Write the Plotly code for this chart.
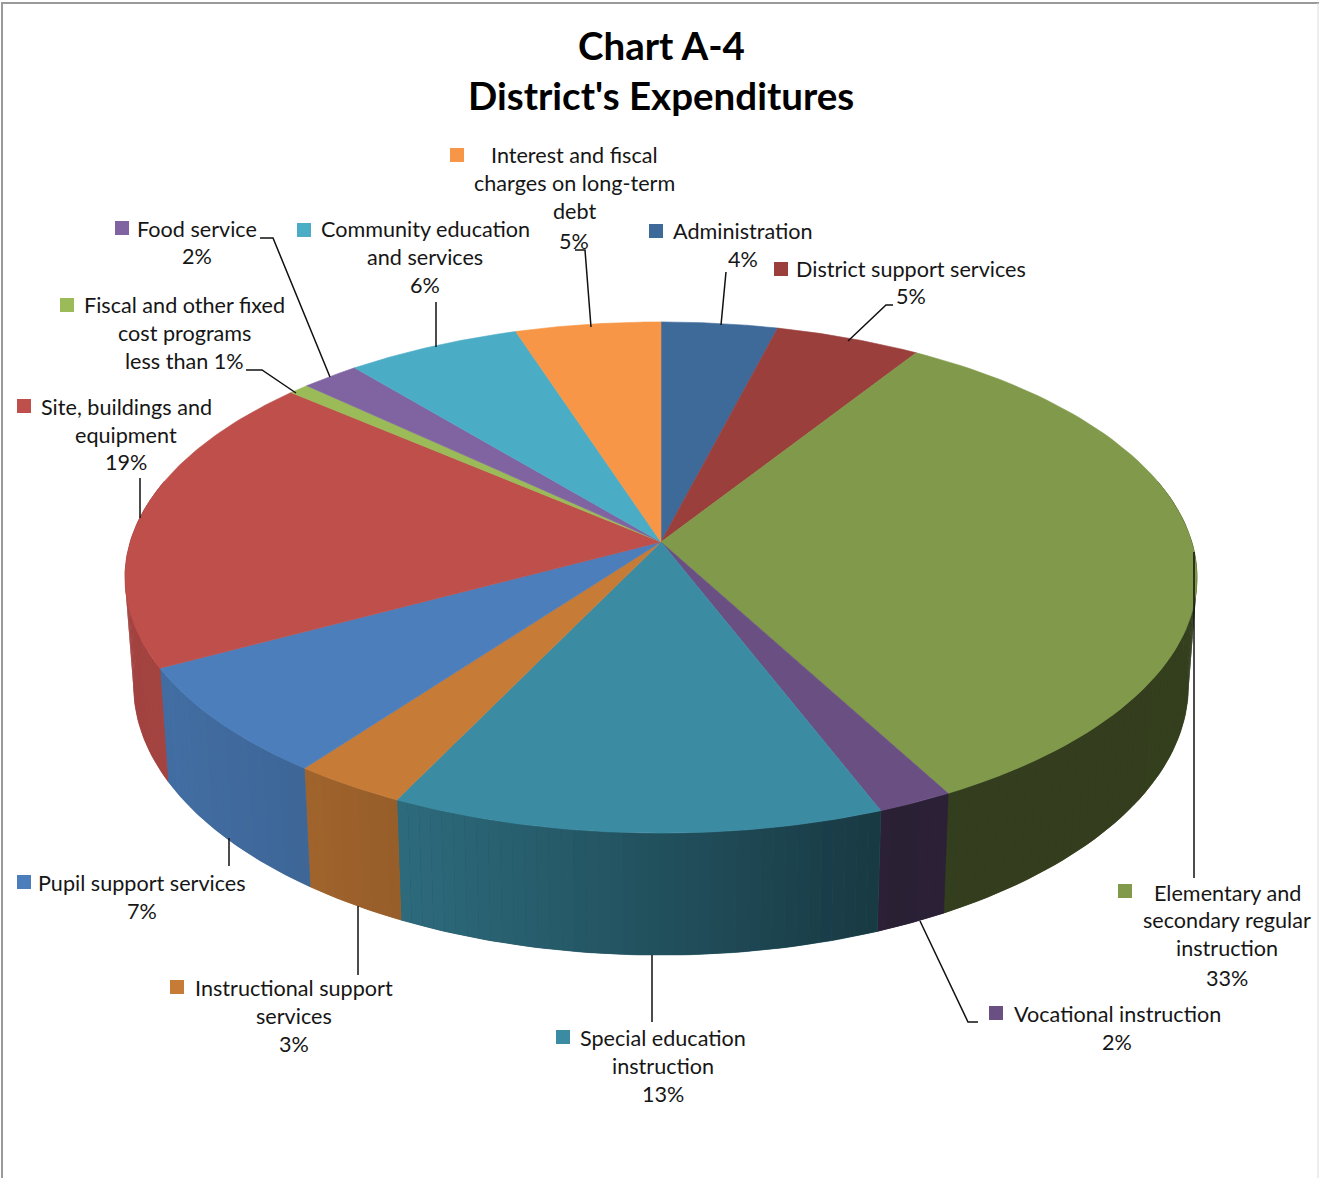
import numpy as np
import plotly.graph_objects as go

# Budget shares, clockwise from twelve o'clock
categories = [
    "Administration", "District support services",
    "Elementary and secondary regular instruction", "Vocational instruction",
    "Special education instruction", "Instructional support services",
    "Pupil support services", "Site, buildings and equipment",
    "Fiscal and other fixed cost programs", "Food service",
    "Community education and services", "Interest and fiscal charges on long-term debt",
]
shares = [4, 5, 33, 2, 13, 3, 7, 19, 0.7, 2, 6, 5]
top_colors = [
    "#3E6A9A", "#9A3F3C", "#80994A", "#6A4F83", "#3B8CA3", "#C67B37",
    "#4C7EBB", "#BE4F4B", "#9BBB59", "#8064A2", "#4BACC6", "#F79646",
]
title_lines = ["Chart A-4", "District's Expenditures"]

# Wrapped label text for each slice, ending with its share
label_lines = [
    ["Administration", "4%"],
    ["District support services", "5%"],
    ["Elementary and", "secondary regular", "instruction", "33%"],
    ["Vocational instruction", "2%"],
    ["Special education", "instruction", "13%"],
    ["Instructional support", "services", "3%"],
    ["Pupil support services", "7%"],
    ["Site, buildings and", "equipment", "19%"],
    ["Fiscal and other fixed", "cost programs", "less than 1%"],
    ["Food service", "2%"],
    ["Community education", "and services", "6%"],
    ["Interest and fiscal", "charges on long-term", "debt", "5%"],
]

# Label placement: centre x, centre y per line, key square, leader route
placement = [
    dict(x=743, y=[231, 259], key=(656, 231), leader=[(721, 325), (726, 272)]),
    dict(x=911, y=[269, 296], key=(781, 269), leader=[(848, 341), (886, 305), (893, 305)]),
    dict(x=1227, y=[893, 920, 948, 978], key=(1125, 891), leader=[(1194, 552), (1194, 878)]),
    dict(x=1117, y=[1014, 1042], key=(996, 1013), leader=[(920, 921), (968, 1022), (978, 1022)]),
    dict(x=663, y=[1038, 1066, 1094], key=(563, 1037), leader=[(652, 955), (652, 1022)]),
    dict(x=294, y=[988, 1016, 1044], key=(177, 987), leader=[(358, 906), (358, 975)]),
    dict(x=142, y=[883, 911], key=(24, 882), leader=[(229, 838), (229, 866)]),
    dict(x=126, y=[407, 435, 462], key=(24, 406), leader=[(140, 518), (140, 478)]),
    dict(x=184, y=[305, 333, 361], key=(67, 305), leader=[(296, 393), (262, 370), (246, 370)]),
    dict(x=197, y=[229, 256], key=(122, 228), leader=[(330, 377), (273, 238), (260, 238)]),
    dict(x=425, y=[229, 257, 285], key=(304, 230), leader=[(436, 347), (436, 302)]),
    dict(x=574, y=[155, 183, 211, 241], key=(457, 155), leader=[(591, 327), (585, 250), (575, 250)]),
]

# Perspective model of the disc, in page pixels
APEX_X, APEX_Y = 661.0, 542.0
PERSP = 0.139
HALF_W = 530.8
TILT = 175.3
BASE_X_SCALE, BASE_Y_SCALE, BASE_Y0 = 0.984, 1.055, 648.0

LABEL_FONT = "Lato"
LABEL_SIZE = 21.6
TITLE_SIZE = 38.5
INK = "#161616"
LEADER_WIDTH = 1.5


def top_rim(theta):
    """Project a clockwise-from-north angle on to the upper face of the disc."""
    u, v = np.sin(theta), np.cos(theta)
    w = 1 + PERSP * v
    return APEX_X + HALF_W * u / w, (APEX_Y - TILT * v) / w


def bottom_rim(theta):
    x, y = top_rim(theta)
    return APEX_X + BASE_X_SCALE * (x - APEX_X), BASE_Y0 + BASE_Y_SCALE * (y - APEX_Y)


def shaded(hex_color, factor):
    r, g, b = (int(hex_color[i:i + 2], 16) for i in (1, 3, 5))
    return f"rgb({r * factor:.0f},{g * factor:.0f},{b * factor:.0f})"


def wall_factor(x):
    # The side of the disc darkens from left to right
    return float(np.interp(x, [130, 170, 300, 400, 650, 890, 1200],
                           [0.85, 0.87, 0.81, 0.76, 0.58, 0.40, 0.41]))


fractions = np.cumsum([0] + shares) / sum(shares)
angles = fractions * 2 * np.pi

fig = go.Figure()


def wall_polygon(a, b, steps):
    theta = np.linspace(a, b, steps)
    tx, ty = top_rim(theta)
    bx, by = bottom_rim(theta[::-1])
    return np.r_[tx, bx, tx[0]], np.r_[ty, by, ty[0]]


# Side wall: a solid base per slice, then narrow bands so the shading varies along it
VISIBLE_FROM = np.arccos(0.25)
for i, color in enumerate(top_colors):
    a = max(angles[i], VISIBLE_FROM)
    b = min(angles[i + 1], 2 * np.pi - VISIBLE_FROM)
    if b <= a:
        continue
    xs, ys = wall_polygon(a, b, 60)
    mid_x, _ = top_rim((a + b) / 2)
    base = shaded(color, wall_factor(mid_x))
    fig.add_trace(go.Scatter(x=xs, y=ys, mode="lines", fill="toself", fillcolor=base,
                             line=dict(color=base, width=0.6), hoverinfo="skip", showlegend=False))
    edges = np.linspace(a, b, max(2, int(np.ceil((b - a) / np.radians(1.2)))) + 1)
    for p, q in zip(edges[:-1], edges[1:]):
        xs, ys = wall_polygon(p, q, 3)
        band_x, _ = top_rim((p + q) / 2)
        fig.add_trace(go.Scatter(x=xs, y=ys, mode="lines", fill="toself",
                                 fillcolor=shaded(color, wall_factor(band_x)),
                                 line=dict(width=0), hoverinfo="skip", showlegend=False))

# Upper face of each slice
for i, (name, color) in enumerate(zip(categories, top_colors)):
    theta = np.linspace(angles[i], angles[i + 1], 80)
    rim_x, rim_y = top_rim(theta)
    fig.add_trace(go.Scatter(
        x=np.r_[APEX_X, rim_x, APEX_X], y=np.r_[APEX_Y, rim_y, APEX_Y],
        mode="lines", fill="toself", fillcolor=color, line=dict(color=color, width=0.6),
        name=name, hoverinfo="name", showlegend=False))

# Leader lines from each slice to its label
for spot in placement:
    fig.add_trace(go.Scatter(x=[p[0] for p in spot["leader"]], y=[p[1] for p in spot["leader"]],
                             mode="lines", line=dict(color="#111111", width=LEADER_WIDTH),
                             hoverinfo="skip", showlegend=False))

# Colour keys beside the labels
fig.add_trace(go.Scatter(
    x=[p["key"][0] for p in placement], y=[p["key"][1] for p in placement],
    mode="markers", marker=dict(symbol="square", size=14, color=top_colors, line=dict(width=0)),
    hoverinfo="skip", showlegend=False))

annotations = []
for lines, spot in zip(label_lines, placement):
    for text, y in zip(lines, spot["y"]):
        annotations.append(dict(x=spot["x"], y=y, xref="x", yref="y", text=text, showarrow=False,
                                xanchor="center", yanchor="middle",
                                font=dict(family=LABEL_FONT, size=LABEL_SIZE, color=INK)))
for text, y in zip(title_lines, [45, 95]):
    annotations.append(dict(x=661, y=y, xref="x", yref="y", text=f"<b>{text}</b>", showarrow=False,
                            xanchor="center", yanchor="middle",
                            font=dict(family=LABEL_FONT, size=TITLE_SIZE, color="#000000")))

# Outer frame of the chart area
frame = [
    dict(type="line", xref="x", yref="y", x0=2, x1=2, y0=2, y1=1178, line=dict(color="#9a9a9a", width=2)),
    dict(type="line", xref="x", yref="y", x0=2, x1=1319, y0=3, y1=3, line=dict(color="#9a9a9a", width=2)),
    dict(type="line", xref="x", yref="y", x0=1318, x1=1318, y0=3, y1=1178, line=dict(color="#dddddd", width=1)),
]

fig.update_layout(
    width=1319, height=1178, margin=dict(l=0, r=0, t=0, b=0),
    paper_bgcolor="white", plot_bgcolor="white", showlegend=False,
    xaxis=dict(range=[0, 1319], visible=False, fixedrange=True),
    yaxis=dict(range=[1178, 0], visible=False, fixedrange=True),
    annotations=annotations, shapes=frame,
)

fig.write_html("out.html")
